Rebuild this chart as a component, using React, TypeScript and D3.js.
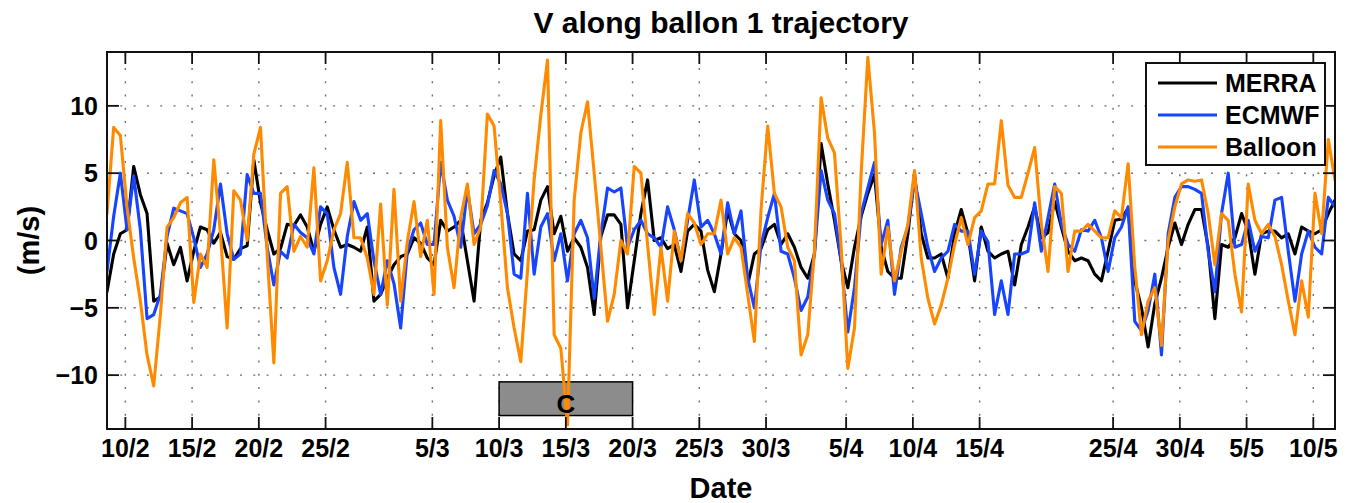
import * as d3 from 'd3'

// Series sampled every 12 h, starting 8 Feb 2010 15:00 UTC
const START = Date.UTC(2010, 1, 8, 15)
const STEP_HOURS = 12
const SPAN_DAYS = 92

const MERRA = [
  -3.8, -1.0, 0.5, 0.8, 5.5, 3.4, 2.0, -4.5, -4.2, -0.2,
  -1.8, -0.5, -3.0, -0.8, 1.0, 0.8, -0.2, 0.6, -1.2, -1.4,
  -0.6, -0.4, 6.0, 2.8, 0.8, -1.0, -0.6, 1.2, 1.1, 1.9,
  1.0, -0.8, 1.2, 2.5, 0.8, -0.5, -0.3, -0.5, -0.8, 1.0,
  -4.5, -4.0, -2.8, -1.8, -1.2, -1.0, 0.2, -0.2, -1.3, -1.8,
  1.5, 0.7, 1.0, 1.5, -1.5, -4.5, 1.5, 2.8, 4.8, 6.2,
  2.0, -1.0, -1.5, 0.7, 0.8, 3.0, 4.0, 0.5, 1.8, -0.8,
  0.2, -0.5, -2.0, -5.5, 0.3, 1.9, 1.9, 1.2, -5.0, -1.5,
  2.0, 4.5, 0.0, 0.2, -0.6, -0.3, -2.3, 0.7, 1.2, 0.7,
  -2.2, -3.8, -1.0, 2.2, 0.5, 0.0, -3.3, -1.0, -0.6, 0.8,
  1.2, -0.3, 0.5, -0.5, -2.0, -2.8, -1.0, 7.2, 4.2, 1.5,
  -1.5, -3.5, -0.5, 1.8, 3.5, 4.9, -0.5, -2.3, -2.8, -2.8,
  0.5, 4.9, 0.5, -1.3, -1.3, -1.0, -2.8, 0.5, 2.3, 0.5,
  -3.0, 1.0, -0.8, -1.3, -1.0, -0.8, -3.3, -0.3, 1.0, 2.5,
  0.2, 0.6, 2.9, 1.0, -0.8, -1.5, -1.3, -1.5, -2.5, -3.0,
  -0.8, 1.5, 1.6, 2.4, -3.0, -5.0, -7.9, -4.7, -2.8, -0.5,
  1.3, -0.3, 1.2, 2.3, 2.3, -0.5, -5.8, -0.3, -0.5, 0.2,
  2.0, 0.7, -2.5, 0.5, 0.7, 0.7, 0.2, 0.5, -1.0, 1.0,
  0.7, 0.5, 0.8, 2.0, 3.0,
]

const ECMWF = [
  -2.3, 1.8, 5.0, 0.8, 4.8, 0.8, -5.8, -5.5, -4.0, 0.3,
  2.4, 2.2, 2.0, 0.2, -2.0, -1.0, 0.8, 4.2, 0.5, -1.4,
  -1.0, 4.9, 3.5, 3.5, -0.5, -3.3, -0.8, -1.3, 1.2, 0.6,
  0.2, -1.0, 2.5, 2.0, -2.0, -4.0, 0.3, 2.9, 1.5, 2.0,
  -1.5, -4.0, -1.5, -3.2, -6.5, -0.8, 0.8, 1.3, -0.3, -0.3,
  5.8, 3.0, 1.8, -0.5, 3.8, 0.5, 1.2, 2.6, 5.2, 4.2,
  2.0, -2.5, -2.8, 3.5, -2.5, 1.0, 2.0, -1.5, 0.5, -3.0,
  0.5, 1.5, 0.2, -4.3, 0.5, 3.9, 3.6, 3.9, -0.5, 0.8,
  1.5, 0.5, 0.2, -0.5, 2.5, 0.8, -1.5, 1.5, 4.5, 1.0,
  1.5, 0.5, -1.0, 2.8, 0.5, 2.2, -2.8, -5.0, -0.3, 1.7,
  3.5, -0.8, -1.0, -2.8, -5.2, -4.2, -1.0, 5.2, 3.0, 2.0,
  -1.5, -6.8, -3.5, 2.0, 3.9, 5.8, -0.3, 1.5, -4.0, -0.5,
  1.0, 4.5, 2.0, -0.5, -2.3, -1.3, -0.8, 1.2, 0.7, 0.7,
  -2.5, 0.7, -0.1, -5.5, -3.0, -5.5, -1.0, -1.0, -0.8, 2.8,
  -0.8, 1.7, 4.2, 1.2, -0.3, -0.8, 0.8, 0.7, 1.5, 0.2,
  -2.3, 0.2, 1.0, 2.5, -6.0, -6.7, -5.2, -2.5, -8.5, 0.5,
  3.2, 4.0, 4.0, 3.8, 3.5, -0.8, -3.8, 2.0, 5.0, -0.5,
  -0.3, 1.5, -0.8, 0.3, 0.2, 3.0, 3.2, -0.8, -4.5, -1.0,
  0.7, -0.5, -1.0, 3.2, 2.5,
]

const BALLOON = [
  2.0, 8.4, 7.8, 2.5, -1.3, -4.5, -8.5, -10.8, -5.5, 1.0,
  1.7, 2.8, 3.2, -4.6, -1.0, -2.0, 6.0, 0.5, -6.5, 3.7,
  3.0, 0.0, 6.4, 8.4, -1.0, -9.1, 3.5, 4.0, -0.8, 0.3,
  -0.5, 5.4, -3.0, -1.5, 0.8, 2.0, 5.8, 0.2, 0.2, -1.3,
  -4.0, 2.7, -4.8, 3.8, -4.5, -0.1, 2.9, -1.2, 1.5, -4.0,
  8.9, -0.5, -3.5, 1.7, 4.2, -0.3, 1.0, 9.4, 8.5, 2.8,
  -3.5, -6.5, -9.0, -2.3, 4.5, 9.3, 13.4, -7.0, -8.0, -13.7,
  3.0, 8.0, 10.3, 5.0, -0.5, -6.0, -4.0, 0.0, -1.0, 5.5,
  5.0, -0.3, -5.5, -0.5, -4.5, 0.7, -1.5, 2.0, 1.3, -0.3,
  0.5, 0.5, 3.0, -1.0, 0.2, -0.5, -4.0, -7.5, 2.3, 8.5,
  3.5, 2.5, -0.5, -1.5, -8.5, -7.0, -0.8, 10.6, 7.6, 6.5,
  -0.5, -9.5, -6.5, 5.0, 13.6, 8.0, -2.5, 1.0, -3.0, -0.8,
  1.2, 5.2, -1.3, -4.3, -6.2, -4.8, -2.8, -0.3, 1.7, -0.3,
  1.7, 2.2, 4.2, 4.2, 8.9, 4.1, 3.2, 3.2, 5.0, 6.9,
  1.2, -2.3, 4.0, 3.5, -2.3, 0.7, 0.7, 1.2, 0.7, 0.2,
  0.2, 2.2, 1.7, 5.7, -2.0, -7.0, -4.5, -3.5, -7.8, 0.0,
  2.5, 4.2, 4.5, 4.4, 4.5, 2.0, -1.8, 2.0, 1.5, -2.5,
  -5.3, 4.2, 1.5, 0.5, 1.2, 0.3, -1.8, -4.5, -7.0, -3.0,
  -5.7, 3.5, 0.5, 7.5, 4.5,
]

const X_TICK_LABELS = [
  '10/2', '15/2', '20/2', '25/2', '5/3', '10/3', '15/3', '20/3', '25/3',
  '30/3', '5/4', '10/4', '15/4', '25/4', '30/4', '5/5', '10/5',
]
const Y_TICKS = [-10, -5, 0, 5, 10]
const Y_DOMAIN = [-14, 14]

// shaded period "C"
const PERIOD_LABEL = 'C'
const PERIOD_DATES = ['10/3', '20/3']
const PERIOD_V = [-13, -10.5]

const SERIES = [
  { name: 'MERRA', values: MERRA, color: '#000000' },
  { name: 'ECMWF', values: ECMWF, color: '#1644ff' },
  { name: 'Balloon', values: BALLOON, color: '#ff8a00' },
]

const FONT = '"Liberation Sans", Arial, Helvetica, sans-serif'

const parseLabel = (s: string) => {
  const [d, m] = s.split('/').map(Number)
  return new Date(Date.UTC(2010, m - 1, d))
}

const fmtY = (v: number) => (v < 0 ? '\u2212' + Math.abs(v) : String(v))

export default function App() {
  const width = 1362
  const height = 503
  const plot = { left: 107, right: 1335, top: 52, bottom: 429 }
  const tickLen = 12

  const x = d3.scaleUtc()
    .domain([new Date(START), new Date(START + SPAN_DAYS * 864e5)])
    .range([plot.left, plot.right])
  const y = d3.scaleLinear().domain(Y_DOMAIN).range([plot.bottom, plot.top])

  const timeAt = (i: number) => new Date(START + i * STEP_HOURS * 3600e3)
  const line = d3.line<number>()
    .x((_, i) => x(timeAt(i)))
    .y(d => y(d))

  const xTicks = X_TICK_LABELS.map(l => ({ label: l, px: x(parseLabel(l)) }))

  const cx0 = x(parseLabel(PERIOD_DATES[0]))
  const cx1 = x(parseLabel(PERIOD_DATES[1]))
  const cy0 = y(PERIOD_V[1])
  const cy1 = y(PERIOD_V[0])

  // legend box
  const lg = { x: 1146, y: 63, w: 179, h: 102 }

  return (
    <div style={{ position: 'absolute', left: 0, top: 0 }}>
      <svg width={width} height={height} style={{ display: 'block', background: '#fff' }} fontFamily={FONT}>
        <defs>
          <clipPath id="plot-clip">
            <rect x={plot.left} y={plot.top} width={plot.right - plot.left} height={plot.bottom - plot.top} />
          </clipPath>
        </defs>

        {/* grid */}
        <g stroke="#333" strokeWidth={1.4} strokeDasharray="2,11.3" opacity={0.7}>
          {xTicks.map(t => (
            <line key={'gx' + t.label} x1={t.px} x2={t.px} y1={plot.bottom} y2={plot.top} />
          ))}
          {Y_TICKS.map(v => (
            <line key={'gy' + v} x1={plot.left} x2={plot.right} y1={y(v)} y2={y(v)} />
          ))}
        </g>

        {/* period C box */}
        <rect x={cx0} y={cy0} width={cx1 - cx0} height={cy1 - cy0}
          fill="#8c8c8c" stroke="#000" strokeWidth={1.5} />

        {/* series */}
        <g clipPath="url(#plot-clip)" fill="none" strokeLinejoin="round" strokeLinecap="round">
          {SERIES.map(s => (
            <path key={s.name} d={line(s.values) ?? ''} stroke={s.color} strokeWidth={3.1} />
          ))}
        </g>

        <text x={(cx0 + cx1) / 2} y={cy1 - 3} textAnchor="middle" fontSize={26} fontWeight="bold">
          {PERIOD_LABEL}
        </text>

        {/* axes box */}
        <rect x={plot.left} y={plot.top} width={plot.right - plot.left} height={plot.bottom - plot.top}
          fill="none" stroke="#111" strokeWidth={2} />

        {/* ticks */}
        <g stroke="#111" strokeWidth={1.8}>
          {xTicks.map(t => (
            <g key={'tx' + t.label}>
              <line x1={t.px} x2={t.px} y1={plot.bottom} y2={plot.bottom - tickLen} />
              <line x1={t.px} x2={t.px} y1={plot.top} y2={plot.top + tickLen} />
            </g>
          ))}
          {Y_TICKS.map(v => (
            <g key={'ty' + v}>
              <line x1={plot.left} x2={plot.left + tickLen} y1={y(v)} y2={y(v)} />
              <line x1={plot.right} x2={plot.right - tickLen} y1={y(v)} y2={y(v)} />
            </g>
          ))}
        </g>

        {/* tick labels */}
        <g fontSize={25} fontWeight="bold" fill="#000">
          {xTicks.map(t => (
            <text key={'lx' + t.label} x={t.px} y={457} textAnchor="middle">{t.label}</text>
          ))}
          {Y_TICKS.map(v => (
            <text key={'ly' + v} x={98} y={y(v) + 9} textAnchor="end">{fmtY(v)}</text>
          ))}
        </g>

        {/* legend */}
        <g>
          <rect x={lg.x} y={lg.y} width={lg.w} height={lg.h} fill="#fff" stroke="#111" strokeWidth={2} />
          {SERIES.map((s, i) => {
            const ly = lg.y + 20 + i * 32
            return (
              <g key={'lg' + s.name}>
                <line x1={lg.x + 12} x2={lg.x + 71} y1={ly} y2={ly} stroke={s.color} strokeWidth={3} />
                <text x={lg.x + 79} y={ly + 9} fontSize={25} fontWeight="bold">{s.name}</text>
              </g>
            )
          })}
        </g>

        {/* title and axis labels */}
        <text x={(plot.left + plot.right) / 2} y={33} textAnchor="middle" fontSize={30} fontWeight="bold">
          V along ballon 1 trajectory
        </text>
        <text x={(plot.left + plot.right) / 2} y={498} textAnchor="middle" fontSize={29} fontWeight="bold">
          Date
        </text>
        <text transform={`translate(39,${(plot.top + plot.bottom) / 2}) rotate(-90)`} textAnchor="middle"
          fontSize={29} fontWeight="bold">
          (m/s)
        </text>
      </svg>
    </div>
  )
}
